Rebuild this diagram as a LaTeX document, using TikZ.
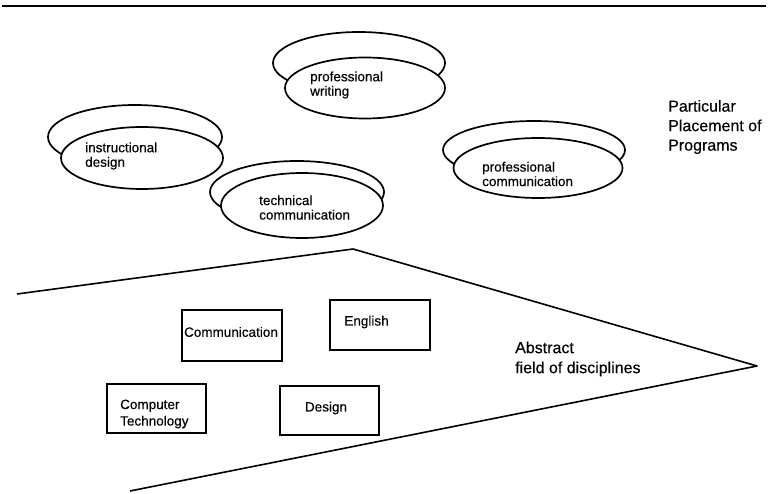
\documentclass[tikz,border=0pt]{standalone}
\usepackage{fontspec}
\setmainfont{Liberation Sans}[FakeBold=0.3]
\usetikzlibrary{shapes.geometric}
\begin{document}
\begin{tikzpicture}[x=1pt,y=-1pt,
  outline/.style={line width=1.6pt, line join=round},
  backoval/.style={ellipse, draw, line width=1.7pt, inner sep=0pt},
  frontoval/.style={ellipse, draw, fill=white, line width=1.7pt, inner sep=0pt},
  ovaltext/.style={anchor=west, align=left, inner sep=0pt, font=\fontsize{13.5}{14.5}\selectfont},
  sidetext/.style={anchor=west, align=left, inner sep=0pt, font=\fontsize{16}{19.5}\selectfont},
  discbox/.style={draw, line width=1.3pt, inner sep=0pt},
  boldbox/.style={discbox, line width=2pt},
  boxtext/.style={inner sep=0pt, align=left, font=\fontsize{13.5}{16.5}\selectfont}
]
\useasboundingbox (0,0) rectangle (768,494);

% rule across the top
\coordinate (ruleL) at (2,6);
\coordinate (ruleR) at (766,6);
\draw[line width=2.6pt] (ruleL) -- (ruleR);

% program ovals: a back outline with a white-filled oval in front
\node[backoval, minimum width=174pt, minimum height=64pt] (idB) at (135,137) {};
\node[frontoval, minimum width=162pt, minimum height=62pt] (idF) at (142,158) {};
\node[ovaltext] (idT) at (85,156) {instructional\\design};

\node[backoval, minimum width=172pt, minimum height=62pt] (pwB) at (359,63) {};
\node[frontoval, minimum width=160pt, minimum height=61pt] (pwF) at (365,88) {};
\node[ovaltext] (pwT) at (310,85) {professional\\writing};

\node[backoval, minimum width=174pt, minimum height=62pt] (tcB) at (297,192) {};
\node[frontoval, minimum width=162pt, minimum height=65pt] (tcF) at (302,205.5) {};
\node[ovaltext] (tcT) at (259,207.5) {technical\\communication};

\node[backoval, minimum width=182pt, minimum height=58pt] (pcB) at (534,150) {};
\node[frontoval, minimum width=169pt, minimum height=60pt] (pcF) at (538,168) {};
\node[ovaltext] (pcT) at (482,174) {professional\\communication};

\node[sidetext] (place) at (668,127) {Particular\\Placement of\\Programs};

% field of disciplines outline
\coordinate (fA) at (17,294);
\coordinate (fB) at (353,249);
\coordinate (fC) at (757,366);
\coordinate (fD) at (130,491);
\draw[outline] (fA) -- (fB) -- (fC) -- (fD);

\node[sidetext, font=\fontsize{16}{20}\selectfont] (field) at (515,359) {Abstract\\field of disciplines};

% discipline boxes
\node[boldbox, minimum width=100pt, minimum height=51pt] (commB) at (232,335.5) {};
\node[boxtext] (commT) at (231,332) {Communication};

\node[discbox, minimum width=100pt, minimum height=50pt] (engB) at (380,325) {};
\node[boxtext] (engT) at (366.5,322) {English};

\node[boldbox, minimum width=99pt, minimum height=49pt] (compB) at (156.5,408.5) {};
\node[boxtext, anchor=west] (compT) at (120,414) {Computer\\Technology};

\node[discbox, minimum width=99pt, minimum height=49pt] (desB) at (329.5,410.5) {};
\node[boxtext] (desT) at (326,408) {Design};
\end{tikzpicture}
\end{document}
